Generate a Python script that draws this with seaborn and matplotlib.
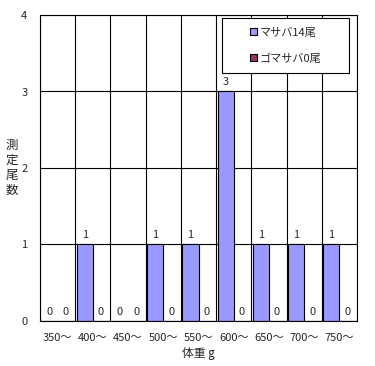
import numpy as np
import pandas as pd
import matplotlib
matplotlib.use("Agg")
import matplotlib.pyplot as plt
from matplotlib.patches import Rectangle
import seaborn as sns

#datos
categorias = ["350～", "400～", "450～", "500～", "550～", "600～", "650～", "700～", "750～"]
masaba = [0, 1, 0, 1, 1, 3, 1, 1, 1]
gomasaba = [0, 0, 0, 0, 0, 0, 0, 0, 0]
series = ["マサバ14尾", "ゴマサバ0尾"]
colores = ["#9999FF", "#993366"]

df = pd.DataFrame({
    "体重": categorias * 2,
    "尾数": masaba + gomasaba,
    "種": [series[0]] * len(categorias) + [series[1]] * len(categorias),
})

sns.set_style("white")
plt.rcParams["font.family"] = ["Noto Sans CJK JP", "DejaVu Sans"]

fig = plt.figure(figsize=(3.75, 3.66), dpi=100)
ax = fig.add_axes([0.1067, 0.123, 0.8453, 0.836])

sns.barplot(data=df, x="体重", y="尾数", hue="種", palette=colores,
            edgecolor="black", linewidth=0.8, width=0.92, ax=ax, saturation=1)

for cont in ax.containers:
    ax.bar_label(cont, fmt="%d", padding=3, fontsize=8)

ax.set_ylim(0, 4)
ax.set_xlim(-0.5, len(categorias) - 0.5)
ax.set_yticks([0, 1, 2, 3, 4])
ax.set_xticks(np.arange(len(categorias) + 1) - 0.5, minor=True)
ax.grid(True, which="minor", axis="x", color="black", linewidth=0.8)
ax.grid(True, which="major", axis="y", color="black", linewidth=0.8)
ax.set_axisbelow(True)
ax.tick_params(axis="both", which="both", length=0, labelsize=8)
ax.tick_params(axis="y", pad=9)
ax.tick_params(axis="x", pad=9)
for s in ax.spines.values():
    s.set_color("black")
    s.set_linewidth(0.8)

ax.set_xlabel("体重 g", fontsize=8.5, va="center")
ax.xaxis.set_label_coords(0.5, -0.105)
ax.set_ylabel("測\n定\n尾\n数", fontsize=9, rotation=0, va="center", ha="center",
              linespacing=1.2)
ax.yaxis.set_label_coords(-0.088, 0.5)

#marco de la leyenda
marco = Rectangle((0.574, 0.810), 0.401, 0.180, transform=ax.transAxes,
                  facecolor="white", edgecolor="black", linewidth=0.8,
                  zorder=4.5, clip_on=False)
ax.add_patch(marco)

leg = ax.legend(loc="center left", bbox_to_anchor=(0.662, 0.900), fontsize=8,
                frameon=False, handlelength=0.6, handleheight=0.6, handletextpad=0.3,
                labelspacing=1.4, borderpad=0, borderaxespad=0)
leg.set_zorder(5)

fig.savefig("out.png", dpi=100, facecolor="white")
